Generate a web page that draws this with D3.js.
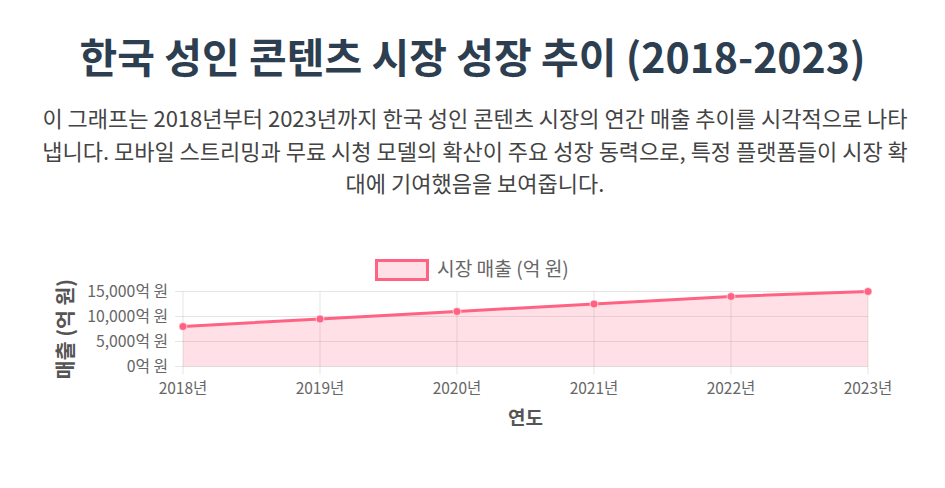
<!DOCTYPE html>
<html><head><meta charset="utf-8">
<script src="https://cdn.jsdelivr.net/npm/d3@7/dist/d3.min.js"></script>
<style>
html,body{margin:0;padding:0;background:#fff;}
svg{display:block;font-family:"Noto Sans CJK KR","Noto Sans",sans-serif;}
</style></head>
<body>
<svg id="chart" width="945" height="488"></svg>
<script>
const titleText = "한국 성인 콘텐츠 시장 성장 추이 (2018-2023)";
const descLines = [
  "이 그래프는 2018년부터 2023년까지 한국 성인 콘텐츠 시장의 연간 매출 추이를 시각적으로 나타",
  "냅니다. 모바일 스트리밍과 무료 시청 모델의 확산이 주요 성장 동력으로, 특정 플랫폼들이 시장 확",
  "대에 기여했음을 보여줍니다."
];
const years = ["2018년","2019년","2020년","2021년","2022년","2023년"];
const revenue = [8000, 9500, 11000, 12500, 14000, 15000];
const yTicks = [0, 5000, 10000, 15000];
const seriesName = "시장 매출 (억 원)";
const xTitle = "연도";
const yTitle = "매출 (억 원)";

const svg = d3.select("#chart");
const lineColor = "rgb(255,99,132)";
const fillColor = "rgba(255,99,132,0.2)";

svg.append("text").attr("x",472.5).attr("y",73).attr("text-anchor","middle")
  .attr("font-size",41).attr("font-weight","bold").attr("fill","#2c3e50").text(titleText);

descLines.forEach((l,i)=>{
  svg.append("text").attr("x",475).attr("y",127+i*32.5).attr("text-anchor","middle")
    .attr("font-size",22).attr("fill","#444").text(l);
});

const x = d3.scalePoint().domain(years).range([183,868]);
const y = d3.scaleLinear().domain([0,15000]).range([366.5,291.5]);

// grid
const g = svg.append("g");
g.selectAll(".hg").data(yTicks).join("line")
  .attr("x1",175).attr("x2",868).attr("y1",d=>y(d)).attr("y2",d=>y(d))
  .attr("stroke","rgba(0,0,0,0.1)").attr("stroke-width",1);
g.selectAll(".vg").data(years).join("line")
  .attr("x1",d=>x(d)).attr("x2",d=>x(d)).attr("y1",y(15000)).attr("y2",y(0)+8)
  .attr("stroke","rgba(0,0,0,0.1)").attr("stroke-width",1);

// axes labels
g.selectAll(".yl").data(yTicks).join("text")
  .attr("x",168).attr("y",d=>y(d)+5.5).attr("text-anchor","end")
  .attr("font-size",15.8).attr("fill","#666").text(d=>d3.format(",")(d)+"억 원");
g.selectAll(".xl").data(years).join("text")
  .attr("x",d=>x(d)).attr("y",394).attr("text-anchor","middle")
  .attr("font-size",15.5).attr("fill","#666").text(d=>d);

// area + line
const pts = years.map((yr,i)=>[x(yr), y(revenue[i])]);
const area = d3.area().x(d=>d[0]).y0(y(0)).y1(d=>d[1]);
svg.append("path").attr("d",area(pts)).attr("fill",fillColor);
svg.append("path").attr("d",d3.line()(pts)).attr("fill","none")
  .attr("stroke",lineColor).attr("stroke-width",3);
svg.selectAll(".pt").data(pts).join("circle")
  .attr("cx",d=>d[0]).attr("cy",d=>d[1]).attr("r",4)
  .attr("fill",lineColor).attr("stroke","rgba(255,255,255,0.6)").attr("stroke-width",1);

// legend
svg.append("rect").attr("x",376.5).attr("y",260.5).attr("width",51).attr("height",19)
  .attr("fill",fillColor).attr("stroke",lineColor).attr("stroke-width",3);
svg.append("text").attr("x",437).attr("y",276).attr("font-size",19.2).attr("fill","#666").text(seriesName);

// axis titles
svg.append("text").attr("x",525.5).attr("y",425).attr("text-anchor","middle")
  .attr("font-size",19).attr("font-weight","bold").attr("fill","#555").text(xTitle);
svg.append("text").attr("transform","translate(73,329) rotate(-90)").attr("text-anchor","middle")
  .attr("font-size",20.5).attr("font-weight","bold").attr("fill","#555").text(yTitle);
</script>
</body></html>
